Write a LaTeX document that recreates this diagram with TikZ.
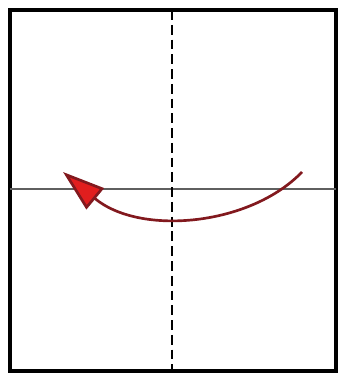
\documentclass[tikz,border=0pt]{standalone}
\usepackage{tikz}
\usetikzlibrary{arrows.meta}
\definecolor{darkred}{RGB}{130,25,30}
\definecolor{arrowred}{RGB}{225,30,30}
\definecolor{creasegray}{RGB}{95,95,95}

\begin{document}
\begin{tikzpicture}[
    x=0.025cm, y=0.025cm,
    paper/.style={draw=black, line width=2.8pt},
    valley/.style={draw=black, line width=1pt, dash pattern=on 7pt off 3.5pt},
    crease/.style={draw=creasegray, line width=1.4pt},
    foldarrow/.style={draw=darkred, line width=1.9pt, -{Triangle[length=1.05cm,width=0.68cm,fill=arrowred]}}
]
\useasboundingbox (0,0) rectangle (339,376);

% Paper
\draw [paper] (10,5) rectangle (336,366);
\draw [crease] (10,187) -- (336,187);
\draw [valley] (172,366) -- (172,5);

% Fold arrow
\coordinate (from) at (302,204);
\coordinate (to) at (63,204);
\draw [foldarrow] (from) .. controls (250,150) and (140,140) .. (to);

\end{tikzpicture}
\end{document}
